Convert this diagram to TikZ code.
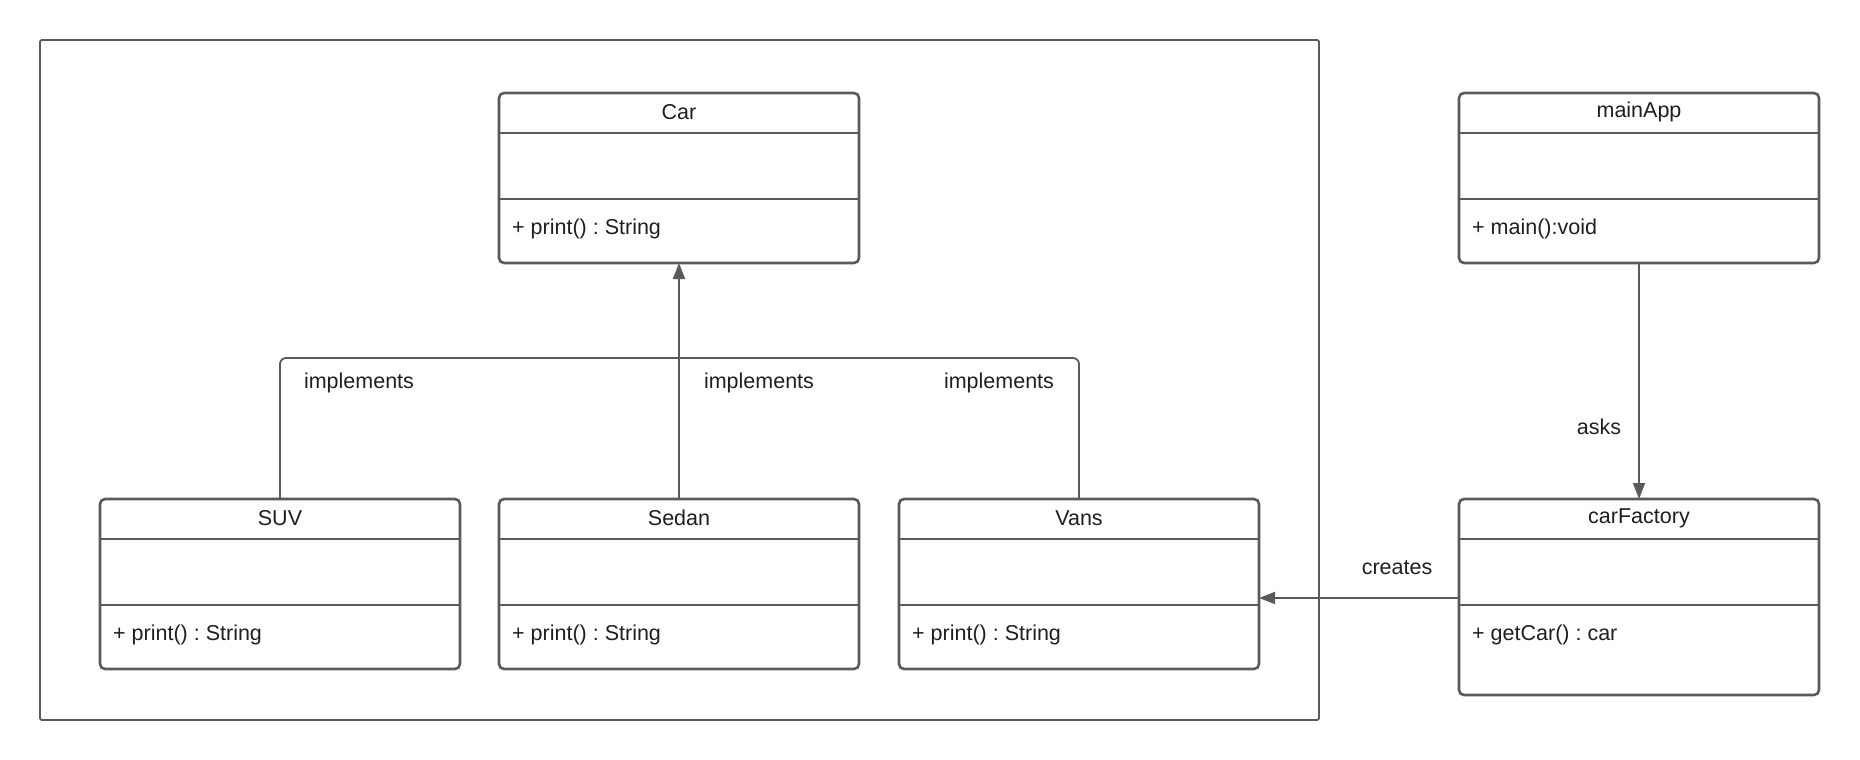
\documentclass[tikz,border=0pt]{standalone}
\usepackage{fontspec}
\setmainfont{Liberation Sans}
\usetikzlibrary{arrows.meta}
\frenchspacing

\definecolor{edge}{HTML}{5A5A5A}
\definecolor{ink}{HTML}{1F1F1F}

\tikzset{
  classbox/.style={draw=edge, line width=2.6pt, rounded corners=5pt, fill=white,
    minimum width=360pt, inner sep=0pt, outer sep=0pt},
  divider/.style={draw=edge, line width=2.6pt},
  lbl/.style={text=ink, font=\fontsize{21.5}{26}\selectfont, inner sep=0pt},
  conn/.style={draw=edge, line width=1.8pt},
  head/.style={-{Triangle[length=16pt,width=12pt]}},
  frame/.style={draw=edge, line width=1.8pt, rounded corners=2pt},
}

% \umlclass{name}{center x}{top y}{title}{operation}{total height}
\newcommand\umlclass[6]{%
  \node[classbox, minimum height=#6pt, anchor=north] (#1) at (#2,#3) {};
  \draw[divider] ([yshift=-40pt]#1.north west) -- ([yshift=-40pt]#1.north east);
  \draw[divider] ([yshift=-106pt]#1.north west) -- ([yshift=-106pt]#1.north east);
  \node[lbl] (#1-name) at ([yshift=-19pt]#1.north) {#4};
  \node[lbl, anchor=west] (#1-op) at ([xshift=13pt,yshift=-136pt]#1.north west) {#5};
}

\begin{document}
\begin{tikzpicture}[x=1pt, y=-1pt]
  \useasboundingbox (0,0) rectangle (1860,760);

  % package frame around the car hierarchy
  \draw[frame] (40,40) rectangle (1319,720);

  % classes
  \umlclass{car}{679}{93}{Car}{+ print() : String}{170}
  \umlclass{suv}{280}{499}{SUV}{+ print() : String}{170}
  \umlclass{sedan}{679}{499}{Sedan}{+ print() : String}{170}
  \umlclass{vans}{1079}{499}{Vans}{+ print() : String}{170}
  \umlclass{mainapp}{1639}{93}{mainApp}{+ main():void}{170}
  \umlclass{factory}{1639}{499}{carFactory}{+ getCar() : car}{196}

  % realisation links to Car
  \coordinate (bar) at (679,358);
  \draw[conn, rounded corners=6pt] (suv.north) |- (bar) -| (vans.north);
  \draw[conn, head] (sedan.north) -- (car.south);
  \node[lbl] (impl1) at (359,383) {implements};
  \node[lbl] (impl2) at (759,383) {implements};
  \node[lbl] (impl3) at (999,383) {implements};

  % mainApp asks the factory
  \draw[conn, head] (mainapp.south) -- (factory.north);
  \node[lbl] (asks) at (1599,427) {asks};

  % the factory creates vehicles
  \draw[conn, head] (factory.west |- 0,598) -- (vans.east |- 0,598);
  \node[lbl] (creates) at (1397,568) {creates};
\end{tikzpicture}
\end{document}
